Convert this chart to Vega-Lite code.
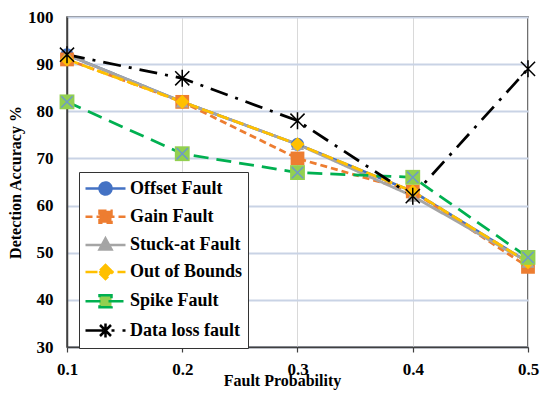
{
  "$schema": "https://vega.github.io/schema/vega-lite/v6.json",
  "width": 461,
  "height": 330,
  "autosize": {"type": "none"},
  "padding": {"left": 67, "top": 17, "right": 22, "bottom": 46},
  "background": "white",
  "config": {
    "view": {"stroke": "#404040", "strokeWidth": 1.5},
    "font": "Liberation Serif",
    "axis": {
      "labelFont": "Liberation Serif",
      "labelFontSize": 17,
      "labelFontWeight": "bold",
      "labelColor": "black",
      "titleFont": "Liberation Serif",
      "titleFontSize": 16,
      "titleFontWeight": "bold",
      "titleColor": "black",
      "domainColor": "#404040",
      "domainWidth": 1.5
    }
  },
  "data": {
    "values": [
      {"p": 0.1, "v": 92, "s": "Offset Fault"},
      {"p": 0.2, "v": 82, "s": "Offset Fault"},
      {"p": 0.3, "v": 73, "s": "Offset Fault"},
      {"p": 0.4, "v": 63, "s": "Offset Fault"},
      {"p": 0.5, "v": 48, "s": "Offset Fault"},
      {"p": 0.1, "v": 91, "s": "Gain Fault"},
      {"p": 0.2, "v": 82, "s": "Gain Fault"},
      {"p": 0.3, "v": 70, "s": "Gain Fault"},
      {"p": 0.4, "v": 63, "s": "Gain Fault"},
      {"p": 0.5, "v": 47, "s": "Gain Fault"},
      {"p": 0.1, "v": 92, "s": "Stuck-at Fault"},
      {"p": 0.2, "v": 82, "s": "Stuck-at Fault"},
      {"p": 0.3, "v": 73, "s": "Stuck-at Fault"},
      {"p": 0.4, "v": 62, "s": "Stuck-at Fault"},
      {"p": 0.5, "v": 48, "s": "Stuck-at Fault"},
      {"p": 0.1, "v": 91, "s": "Out of Bounds"},
      {"p": 0.2, "v": 82, "s": "Out of Bounds"},
      {"p": 0.3, "v": 73, "s": "Out of Bounds"},
      {"p": 0.4, "v": 63, "s": "Out of Bounds"},
      {"p": 0.5, "v": 48, "s": "Out of Bounds"},
      {"p": 0.1, "v": 82, "s": "Spike Fault"},
      {"p": 0.2, "v": 71, "s": "Spike Fault"},
      {"p": 0.3, "v": 67, "s": "Spike Fault"},
      {"p": 0.4, "v": 66, "s": "Spike Fault"},
      {"p": 0.5, "v": 49, "s": "Spike Fault"},
      {"p": 0.1, "v": 92, "s": "Data loss fault"},
      {"p": 0.2, "v": 87, "s": "Data loss fault"},
      {"p": 0.3, "v": 78, "s": "Data loss fault"},
      {"p": 0.4, "v": 62, "s": "Data loss fault"},
      {"p": 0.5, "v": 89, "s": "Data loss fault"}
    ]
  },
  "encoding": {
    "x": {
      "field": "p", "type": "quantitative",
      "scale": {"domain": [0.1, 0.5], "nice": false, "zero": false},
      "axis": {
        "title": "Fault Probability",
        "values": [0.1, 0.2, 0.3, 0.4, 0.5],
        "format": ".1f",
        "labelFlush": false,
        "labelOverlap": false,
        "grid": true, "gridColor": "#D9D9D9", "gridWidth": 1,
        "ticks": true, "tickSize": 5, "tickColor": "#404040", "tickWidth": 1.2,
        "labelPadding": 9,
        "titleX": 215, "titleY": 25, "titleBaseline": "top"
      }
    },
    "y": {
      "field": "v", "type": "quantitative",
      "scale": {"domain": [30, 100], "nice": false, "zero": false},
      "axis": {
        "title": "Detection Accuracy %",
        "values": [30, 40, 50, 60, 70, 80, 90, 100],
        "labelFlush": false,
        "grid": true, "gridColor": "#C9D3E5", "gridWidth": 2,
        "ticks": false, "tickSize": 0,
        "labelPadding": 14,
        "titlePadding": 4
      }
    }
  },
  "layer": [
    {
      "mark": {"type": "line", "strokeWidth": 2.75},
      "encoding": {
        "color": {
          "field": "s", "type": "nominal",
          "scale": {
            "domain": ["Offset Fault", "Gain Fault", "Stuck-at Fault", "Out of Bounds", "Spike Fault", "Data loss fault"],
            "range": ["#4472C4", "#ED7D31", "#A5A5A5", "#FFC000", "#00B050", "#000000"]
          },
          "legend": {
            "title": null,
            "orient": "none",
            "legendX": 12,
            "legendY": 155,
            "padding": 5,
            "rowPadding": 5.2,
            "symbolSize": 400,
            "labelOffset": 23,
            "labelFont": "Liberation Serif",
            "labelFontSize": 18,
            "labelFontWeight": "bold",
            "labelColor": "black",
            "strokeColor": "#333333",
            "fillColor": "white",
            "symbolStrokeWidth": 2.5,
            "encode": {
              "symbols": {
                "update": {
                  "size": {"value": 400},
                  "shape": {"signal": "datum.value === 'Offset Fault' ? 'M-1,0L3,0M1.6,0A0.6,0.6,0,1,1,0.4,0A0.6,0.6,0,1,1,1.6,0Z' : datum.value === 'Gain Fault' ? 'M-1,0L3,0M0.4,-0.6L1.6,-0.6L1.6,0.6L0.4,0.6Z' : datum.value === 'Stuck-at Fault' ? 'M-1,0L3,0M1,-0.65L1.6,0.45L0.4,0.45Z' : datum.value === 'Out of Bounds' ? 'M-1,0L3,0M1,-0.7L1.7,0L1,0.7L0.3,0Z' : datum.value === 'Spike Fault' ? 'M-1,0L3,0M0.4,-0.6L1.6,-0.6L1.6,0.6L0.4,0.6Z' : 'M-1,0L3,0M0.45,-0.55L1.55,0.55M0.45,0.55L1.55,-0.55M1,-0.7L1,0.7'"},
                  "fill": {"signal": "datum.value === 'Offset Fault' ? '#4472C4' : datum.value === 'Gain Fault' ? '#ED7D31' : datum.value === 'Stuck-at Fault' ? '#A5A5A5' : datum.value === 'Out of Bounds' ? '#FFC000' : datum.value === 'Spike Fault' ? '#92D050' : 'transparent'"},
                  "stroke": {"signal": "datum.value === 'Offset Fault' ? '#4472C4' : datum.value === 'Gain Fault' ? '#ED7D31' : datum.value === 'Stuck-at Fault' ? '#A5A5A5' : datum.value === 'Out of Bounds' ? '#FFC000' : datum.value === 'Spike Fault' ? '#00B050' : '#000000'"},
                  "strokeDash": {"signal": "datum.value === 'Gain Fault' ? [5,3] : datum.value === 'Out of Bounds' ? [10,4] : datum.value === 'Spike Fault' ? [12,5] : [1,0]"},
                  "strokeWidth": {"value": 2.5},
                  "opacity": {"value": 1}
                }
              }
            }
          }
        },
        "strokeDash": {
          "field": "s", "type": "nominal",
          "scale": {
            "domain": ["Offset Fault", "Gain Fault", "Stuck-at Fault", "Out of Bounds", "Spike Fault", "Data loss fault"],
            "range": [[1, 0], [7, 4], [1, 0], [12, 4], [15, 8], [18, 8, 3, 8]]
          },
          "legend": null
        }
      }
    },
    {
      "transform": [{"filter": "datum.s === 'Offset Fault'"}],
      "mark": {"type": "point", "shape": "circle", "filled": true, "size": 170, "color": "#4472C4", "opacity": 1},
      "encoding": {}
    },
    {
      "transform": [{"filter": "datum.s === 'Gain Fault'"}],
      "mark": {"type": "point", "shape": "square", "filled": true, "size": 190, "color": "#ED7D31", "opacity": 1},
      "encoding": {}
    },
    {
      "transform": [{"filter": "datum.s === 'Stuck-at Fault'"}],
      "mark": {"type": "point", "shape": "triangle-up", "filled": true, "size": 170, "color": "#A5A5A5", "opacity": 1},
      "encoding": {}
    },
    {
      "transform": [{"filter": "datum.s === 'Out of Bounds'"}],
      "mark": {"type": "point", "shape": "diamond", "filled": true, "size": 200, "color": "#FFC000", "opacity": 1},
      "encoding": {}
    },
    {
      "transform": [{"filter": "datum.s === 'Spike Fault'"}],
      "mark": {"type": "point", "shape": "square", "filled": true, "size": 220, "color": "#92D050", "opacity": 1},
      "encoding": {}
    },
    {
      "transform": [{"filter": "datum.s === 'Spike Fault'"}],
      "mark": {"type": "point", "filled": false, "size": 200, "strokeWidth": 1.5, "color": "#6E9BC5", "opacity": 1, "shape": "M-0.8,-0.8L0.8,0.8M-0.8,0.8L0.8,-0.8"},
      "encoding": {}
    },
    {
      "transform": [{"filter": "datum.s === 'Data loss fault'"}],
      "mark": {"type": "point", "filled": false, "size": 200, "strokeWidth": 1.5, "color": "#000000", "opacity": 1, "shape": "M-1,-1L1,1M-1,1L1,-1M0,-1.2L0,1.2"},
      "encoding": {}
    }
  ]
}
